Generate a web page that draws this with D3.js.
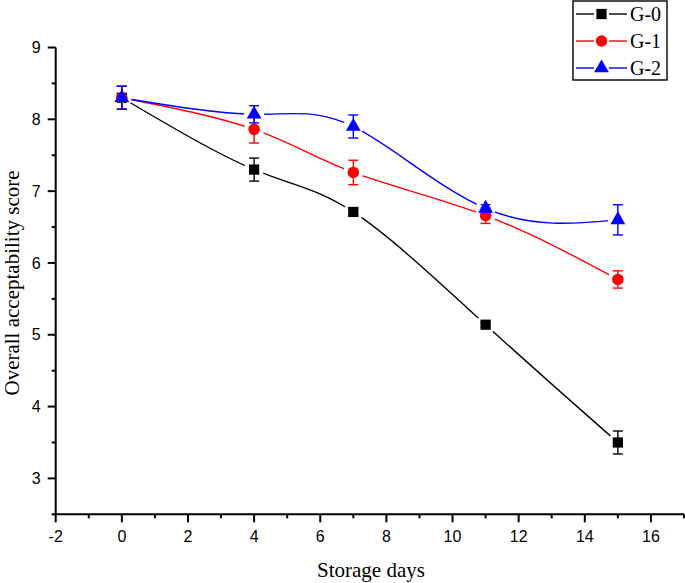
<!DOCTYPE html>
<html>
<head>
<meta charset="utf-8">
<script src="https://cdn.jsdelivr.net/npm/d3@7"></script>
<style>
  body { margin: 0; background: #fff; }
  svg { display: block; }
  .tick-label { font-family: "Liberation Sans", Arial, sans-serif; font-size: 16px; fill: #000; }
  .title { font-family: "Liberation Serif", "Times New Roman", serif; font-size: 21px; fill: #000; }
</style>
</head>
<body>
<div id="chart"></div>
<script>
// storage days
var days = [0, 4, 7, 11, 15];

// mean scores
var g0 = [8.30, 7.30, 6.71, 5.14, 3.50];
var g1 = [8.30, 7.86, 7.26, 6.66, 5.77];
var g2 = [8.30, 8.07, 7.90, 6.76, 6.60];

// error bar half-heights
var g0Err = [0.16, 0.16, 0.05, 0.03, 0.16];
var g1Err = [0.16, 0.19, 0.17, 0.11, 0.12];
var g2Err = [0.16, 0.12, 0.16, 0.05, 0.21];

var seriesNames = ["G-0", "G-1", "G-2"];
var seriesColors = ["#000000", "#ff0000", "#0000ff"];
var seriesShapes = [d3.symbolSquare, d3.symbolCircle, d3.symbolTriangle];

var xTicks = [-2, 0, 2, 4, 6, 8, 10, 12, 14, 16];
var yTicks = [3, 4, 5, 6, 7, 8, 9];

var width = 685, height = 583;

var svg = d3.select("#chart").append("svg")
    .attr("width", width)
    .attr("height", height);

var x = d3.scaleLinear().domain([-2, 17]).range([55.7, 684]);
var y = d3.scaleLinear().domain([2.5, 9]).range([514.3, 47.5]);

//*axes
var xAxis = svg.append("g").attr("transform", "translate(0," + y(2.5) + ")");
xAxis.append("line")
    .attr("x1", x(-2)).attr("x2", x(17))
    .attr("stroke", "#000").attr("stroke-width", 2);
xAxis.selectAll(".minor")
    .data(d3.range(-2, 18, 1))
    .enter().append("line")
    .attr("x1", d => x(d)).attr("x2", d => x(d))
    .attr("y1", 0).attr("y2", d => (d % 2 == 0 ? 8 : 4))
    .attr("stroke", "#000").attr("stroke-width", 2);
xAxis.selectAll("text")
    .data(xTicks)
    .enter().append("text")
    .attr("class", "tick-label")
    .attr("x", d => x(d))
    .attr("y", 28)
    .attr("text-anchor", "middle")
    .text(d => d);

var yAxis = svg.append("g").attr("transform", "translate(" + x(-2) + ",0)");
yAxis.append("line")
    .attr("y1", y(2.5)).attr("y2", y(9))
    .attr("stroke", "#000").attr("stroke-width", 2);
yAxis.selectAll(".minor")
    .data(d3.range(2.5, 9.01, 0.5))
    .enter().append("line")
    .attr("y1", d => y(d)).attr("y2", d => y(d))
    .attr("x1", 0).attr("x2", d => (d % 1 == 0 ? -8 : -4))
    .attr("stroke", "#000").attr("stroke-width", 2);
yAxis.selectAll("text")
    .data(yTicks)
    .enter().append("text")
    .attr("class", "tick-label")
    .attr("x", -15)
    .attr("y", d => y(d))
    .attr("dy", "0.35em")
    .attr("text-anchor", "end")
    .text(d => d);

svg.append("text")
    .attr("class", "title")
    .attr("x", 371).attr("y", 577)
    .attr("text-anchor", "middle")
    .text("Storage days");

svg.append("text")
    .attr("class", "title")
    .attr("transform", "translate(19,283) rotate(-90)")
    .attr("text-anchor", "middle")
    .text("Overall acceptability score");

//*series
var seriesValues = [g0, g1, g2];
var seriesErrors = [g0Err, g1Err, g2Err];
var defs = svg.append("defs");
var line = d3.line().x(d => x(d.day)).y(d => y(d.v)).curve(d3.curveNatural);

seriesValues.forEach(function(vals, s) {
    var pts = days.map((d, i) => ({day: d, v: vals[i], e: seriesErrors[s][i]}));
    var color = seriesColors[s];

    // gap around markers, like the original software does
    var mask = defs.append("mask").attr("id", "gap" + s)
        .attr("maskUnits", "userSpaceOnUse")
        .attr("x", 0).attr("y", 0).attr("width", width).attr("height", height);
    mask.append("rect").attr("width", width).attr("height", height).attr("fill", "#fff");
    mask.selectAll("circle").data(pts).enter().append("circle")
        .attr("cx", d => x(d.day)).attr("cy", d => y(d.v)).attr("r", 10).attr("fill", "#000");

    var g = svg.append("g");
    g.append("path")
        .datum(pts)
        .attr("d", line)
        .attr("fill", "none")
        .attr("stroke", color)
        .attr("stroke-width", 1.4)
        .attr("mask", "url(#gap" + s + ")");

    var err = g.selectAll(".err").data(pts).enter().append("g")
        .attr("stroke", color).attr("stroke-width", 1.4);
    err.append("line")
        .attr("x1", d => x(d.day)).attr("x2", d => x(d.day))
        .attr("y1", d => y(d.v + d.e)).attr("y2", d => y(d.v - d.e));
    err.append("line")
        .attr("x1", d => x(d.day) - 5).attr("x2", d => x(d.day) + 5)
        .attr("y1", d => y(d.v + d.e)).attr("y2", d => y(d.v + d.e));
    err.append("line")
        .attr("x1", d => x(d.day) - 5).attr("x2", d => x(d.day) + 5)
        .attr("y1", d => y(d.v - d.e)).attr("y2", d => y(d.v - d.e));

    g.selectAll(".mark").data(pts).enter().append("path")
        .attr("d", d3.symbol().type(seriesShapes[s]).size(s == 2 ? 95 : 105))
        .attr("transform", d => "translate(" + x(d.day) + "," + y(d.v) + ")")
        .attr("fill", color);
});

//*legend
var legend = svg.append("g");
legend.append("rect")
    .attr("x", 573).attr("y", 1)
    .attr("width", 94).attr("height", 79)
    .attr("fill", "#fff").attr("stroke", "#000").attr("stroke-width", 1.4);

seriesNames.forEach(function(name, s) {
    var ly = 14 + s * 27;
    var row = legend.append("g").attr("transform", "translate(0," + ly + ")");
    row.append("line").attr("x1", 576).attr("x2", 594).attr("stroke", seriesColors[s]).attr("stroke-width", 1.4);
    row.append("line").attr("x1", 609).attr("x2", 627).attr("stroke", seriesColors[s]).attr("stroke-width", 1.4);
    row.append("path")
        .attr("d", d3.symbol().type(seriesShapes[s]).size(s == 2 ? 95 : 105))
        .attr("transform", "translate(601.5,0)")
        .attr("fill", seriesColors[s]);
    row.append("text")
        .attr("class", "title")
        .style("font-size", "20px")
        .attr("x", 630).attr("y", 0).attr("dy", "0.35em")
        .text(name);
});
</script>
</body>
</html>
